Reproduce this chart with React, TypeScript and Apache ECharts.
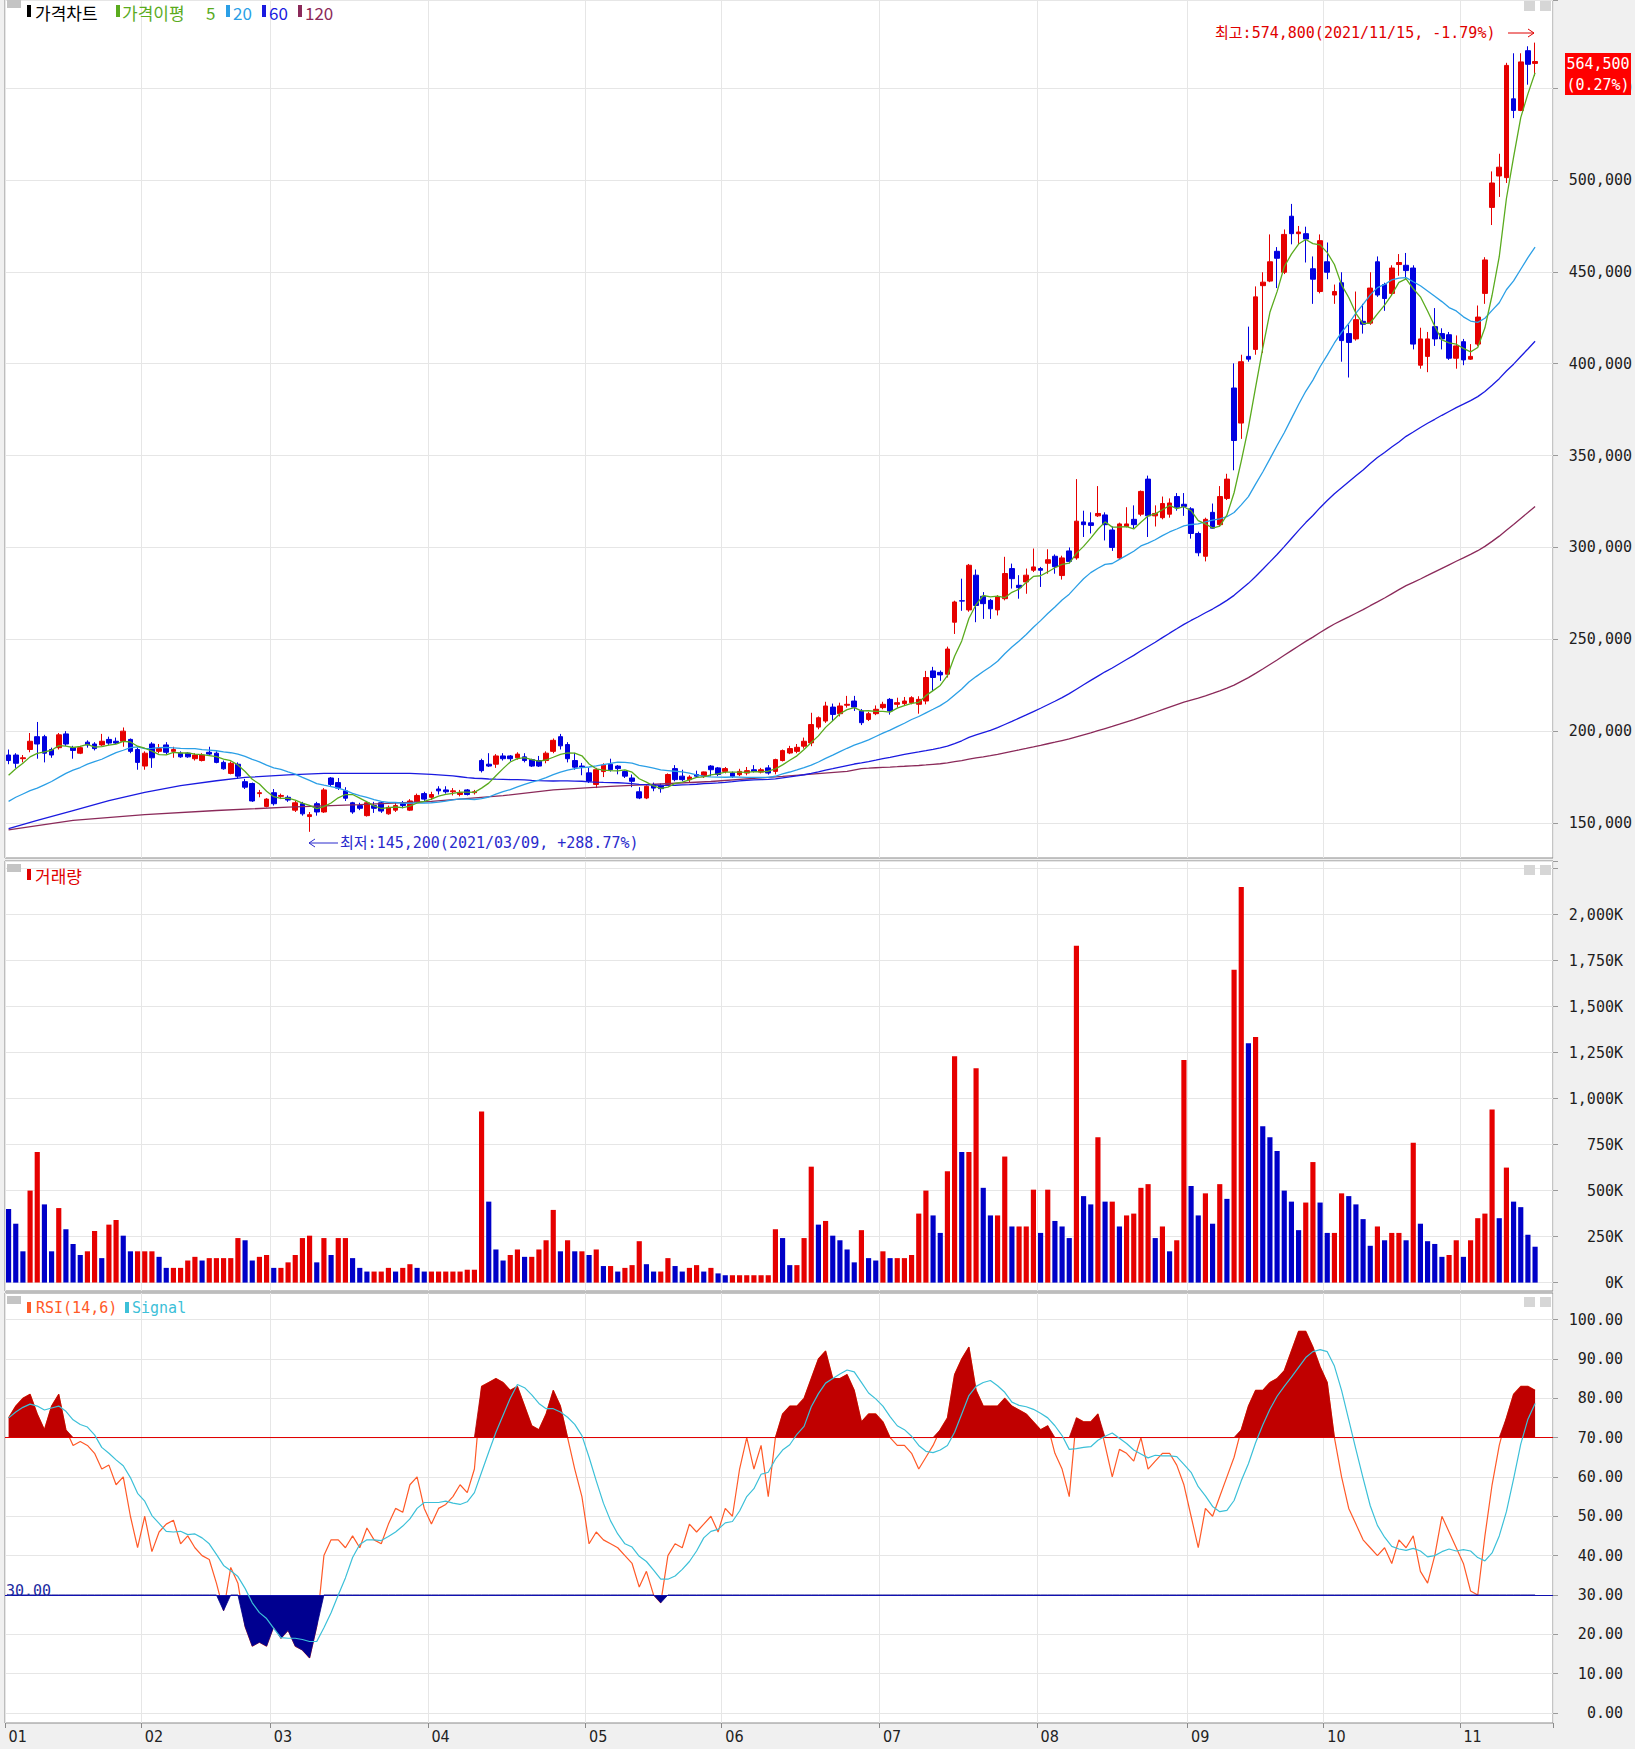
import React, { useEffect, useRef } from "react";
import * as echarts from "echarts";

// ---- price data (thousand won), one entry per trading day, 2021-01-05 .. 2021-11-15 ----
const opens = [
  187,187,185,190,197,197,190,191,198.5,191,188,194,193,192.5,195.5,194.5,194.5,195.5,190,
  181,193,189,192.5,189,188,188,185,184,188.5,188,183,177,182,172.5,171.5,166,159,
  166.5,164.5,164,157,160.5,153.5,160.5,156,174.5,172,167.5,161,159.5,154,159.5,161,155,157,160.5,157,161.5,166,
  164,168.5,168,167,165.5,168,166.5,184,182,182,186.5,186.5,185.5,186,184.5,184,184,189,197,192.7,184,181,
  177.3,171,178,182,181,178,174.5,167,163.6,171,170.5,171,179.6,175.5,173.6,176.4,175.5,181,180,
  178.1,177.2,176.3,177.2,179,177.7,180,178.1,184,188.1,189,191.8,193.6,202.2,205.5,213.1,209.5,214.1,216.4,211,206.4,209.5,
  212.8,217.3,214.6,215,215.5,214.6,216.4,232.8,232,231,259.3,271,266,284.9,273.4,271.2,266,272.1,288.5,279.4,281.2,287.6,
  288.5,291.4,295.2,284.7,298.1,294.3,313.9,313.4,317.2,317.7,309.5,294.3,311.4,315.3,318.1,337.2,317.2,316.2,318.1,327.7,323.5,
  321,307.6,295.2,319.1,312.4,326.7,386.8,367.7,404,407.8,442.5,445,461.2,449.8,480.3,470.8,470.8,451.7,439.3,
  455.5,437.4,444.1,416.4,413.5,423.1,422.1,455.5,443.1,438.3,454,453.6,452.1,399.2,404,420.2,416.4,415.8,403,
  412,402.5,410.7,438.3,485.1,502.2,501.3,544.2,537.9,570.4,563.5,
];
const closes = [
  184,182.5,185.5,194.5,193,188,187,198,193,189.5,191,192.5,190.5,194.5,193.5,193.5,200,189,183,
  188,185.5,190.5,188.5,190,186,186,187,187,187.5,183,179.5,182.5,175.5,169.5,162,166.5,163,
  160.5,165,162.5,161,155,154.5,156,168,171,169,163.5,156,158,161,158,156.5,158.5,159.5,159.5,162,165,163,
  165.5,167.5,167,167.5,166.5,165.5,167,178.5,181,186.5,185,185,187.5,184,181,181,188,195,192,185,180.4,180.5,
  172.7,179,181.5,179,179.6,175.5,172.7,163.6,170,169,168.7,176.4,173.6,173.6,175,175.5,177.8,179,176.4,
  179.6,175.4,178.1,178.5,178.1,179,177.2,184.5,189.4,190.5,191.2,194.5,203.6,207.3,213.7,209.1,213.7,214.6,213.1,204.6,209.5,211.9,
  214.6,211,215.5,216.4,218.2,217.3,229.2,229.2,230.6,244.7,270.3,270.8,290.3,268.4,269.4,266.6,273,285.8,283,278.1,284.9,289.4,
  287.6,293.3,289.5,294.3,292.4,314.3,312.4,312,318.5,312.4,300,312.8,312.8,312.4,330.5,317.2,318.5,323.9,324.2,321.9,322.3,
  307.6,297.1,315.3,310.5,327.7,337.2,358.2,401.1,402.5,436.4,444.4,455.5,457.4,470.4,470.8,471.7,467.9,446,467,
  449.8,439.3,412.6,411.6,424,421.5,441.2,437.4,435.5,452.1,455.1,450.7,410.7,413.5,413.5,413.5,413.5,403,409.7,
  402.1,404,425.4,456.5,498.4,507,562.4,537.9,564.3,563,564.5,
];
const highs = [
  190,188,187,199,205,198,191,199,200,192,192,195,194,198.5,197,196.5,202,196,191,
  189,194,193,194,191.5,189,188.5,188,188,191.5,189,184,183.5,183,174,172,168,163.5,
  168.5,166,165,162,161.5,156,161.5,169,175,174.5,169.5,161.5,161,162,161.5,162,159.5,161,162,163,166,167,
  167,170,170,169,168,168.5,168,185,188,187.5,188,187,188.5,188,185,186.5,189,196,198.5,194,188.2,182.7,
  180,180,182.5,185,181.5,178.5,176.4,169.5,170.5,172,171.5,177,181.5,179,176,178.5,178,181.5,180.5,
  180.5,178,179.5,180.5,181.5,180,181.5,185,190,192,193,196.5,210,208,216,215,215.5,219.2,219.2,212,210.5,214,
  216,218,218.2,218.6,219,219,232.8,235,233,246,271,283,291,288,275.7,272,274,294.9,291.2,284.9,288.5,299.4,
  289.4,299,296.2,295.5,300,337.2,320,319.1,333.4,319.1,311.4,313.5,321.9,322.9,331,339.1,322.9,327.7,326.7,329.6,329.6,
  321.9,308.6,316.2,323.9,333.4,340.1,400.2,404.9,420.2,442.1,449.8,470.4,463.5,473.1,487,475,474.6,458.4,470.4,
  466,443.1,449.8,421.2,439.3,432.6,449.8,458.4,444.1,453.6,459.7,460.3,453.6,419.6,417.3,430.3,419.3,417.3,415.4,
  413.5,410.7,431.7,458,504.7,514.3,563.8,569,569,572.8,574.8,
];
const lows = [
  182,180,183,188.5,185,183,185.5,190,192,185,187.5,191,189.5,192,192.5,193,191.5,188,179,
  179,180,188,187.5,185.5,185.5,185.5,184,183.5,187,182.5,179,176.5,174,168.5,161.5,164,158.5,
  159.5,163,161.5,156,154,145.2,154,155.5,170,168,162,155,157,153.5,155.5,155.5,154.5,156,158,156.5,160.5,162,
  162.5,165.5,166,165,164.5,165,165.5,177.5,180.5,180,184,183.5,184.5,183,180.5,180.5,182.5,188,190,183,179,176,
  171.8,169,175,178,176.5,174.5,169.5,163,163,167.3,166.5,170.5,172.7,172.7,172,174.5,174.5,175.5,175.5,
  177,174.5,175.5,176,177.5,177,176.3,176.5,183.5,187.5,188,190.5,191.8,201,204.5,205.5,208,212.8,211,203.3,205.5,208.7,
  211.9,209,212.8,213.7,214.6,209.5,214.6,221.9,227.4,229.2,252.9,265.5,265,259.3,261.1,261.1,263,271.2,277.6,272.1,274.8,286.6,
  278.5,285.7,285.7,282.5,291.4,293.3,305.7,307.6,316.6,303.8,298.1,293.5,310.9,310.5,317,305.7,311.4,315.3,316.2,320,317.2,
  304.8,295.2,292.4,310.1,311.4,325.8,342,359.1,401.1,404.9,405.9,444.4,441.2,448.8,465,465,455.1,432.6,438.3,
  446,432.6,401.1,392.5,412.6,416.4,421.2,436.4,428.8,437.4,447.9,446,407.8,397.3,395.4,409.7,407.8,402.1,397.3,
  399.2,402.1,409.7,432.6,475.5,490.8,498.4,533.7,537.5,551.9,556.6,
];
// volume, thousand shares
const volumes = [
  400,320,170,500,710,425,170,405,290,210,150,170,280,133,315,340,255,170,170,
  170,170,140,80,80,80,120,140,120,133,133,133,133,242,230,120,140,150,
  80,80,110,150,242,255,110,242,150,242,242,133,80,60,60,60,80,60,80,100,80,60,
  60,60,60,60,60,70,70,930,440,180,120,150,180,140,140,180,230,395,170,230,170,170,
  150,180,90,90,60,80,95,225,100,60,60,133,90,60,80,95,60,80,50,
  40,40,40,40,40,40,40,290,242,95,95,242,630,315,335,255,230,180,110,285,133,120,
  170,133,133,133,150,375,500,365,270,605,1230,710,710,1165,515,365,365,685,305,305,305,505,
  270,505,335,305,242,1830,470,425,790,440,440,305,365,375,515,535,242,305,170,230,1210,
  525,365,485,320,535,455,1700,2150,1300,1335,850,790,715,500,440,285,435,655,435,
  270,270,485,470,425,345,200,305,230,270,270,230,760,320,225,210,140,150,230,
  140,230,350,375,940,350,625,440,410,260,195,
];
// RSI(14)
const rsi = [
  75,78,80,81,76,72,78,81,72,68,69,68,66,62,63,58,60,50,42,
  50,41,46,48,49,43,45,42,40,39,33,26,37,33,22,17,18,17,
  22,19,21,17,16,14,22,40,44,44,42,45,42,47,44,43,48,52,51,58,60,52,
  48,52,53,55,58,56,62,83,84,85,84,82,83,78,73,72,76,82,78,70,62,55,
  43,46,44,43,42,40,38,32,36,30,28,40,43,42,48,46,48,50,46,
  52,50,62,70,62,68,55,70,76,78,78,80,85,90,92,85,85,86,82,74,76,76,
  74,70,68,68,66,62,65,68,72,75,86,90,93,82,78,78,78,80,78,77,76,74,
  72,73,66,62,55,75,74,74,76,68,60,67,66,64,70,62,64,66,66,63,58,
  50,42,52,50,55,60,65,72,78,82,82,84,85,87,92,97,97,93,88,
  84,70,60,52,48,44,42,40,42,38,44,42,45,36,33,40,50,46,42,
  38,31,30,45,58,68,75,81,83,83,82,
];
const ma5Early = [176, 179.5, 182.5, 186];
const ma20Early = [161.8,164,165.8,167.6,169,170.8,172.6,174.8,177,178.8,180.2,182,183.4,184.7,186.5,188.3,189.6,191,191.4];
const ma60EarlyIdx = [0,4,9,14,19,24,29,33,39,44,50,56];
const ma60EarlyVal = [146.9,151.4,156.8,162.2,166.7,170.3,173,174.8,176.2,177,177,177];
const ma120EarlyIdx = [0,9,19,29,39,49,59,69,76,84,98,108,117];
const ma120EarlyVal = [146.2,151.4,154.6,156.8,158.6,160,161.8,164.9,168,169.9,172.6,175.4,178.1];

const monthStarts = [0,19,37,59,81,100,122,144,165,184,203];
const monthLabels = ["01","02","03","04","05","06","07","08","09","10","11"];

const RED = "#e60000";
const BLUE = "#0000e0";
const MONO = "'DejaVu Sans Mono', 'Noto Sans CJK KR', monospace";
const KR = "'Noto Sans CJK KR', sans-serif";

function avg(arr: number[], from: number, to: number) {
  let s = 0;
  for (let k = from; k <= to; k++) s += arr[k];
  return s / (to - from + 1);
}

function buildOption(): any {
  const N = closes.length;
  const cats = Array.from({ length: N + 2 }, (_, i) => String(i));
  const isMonth = (i: number) => monthStarts.indexOf(i) >= 0;

  const ma5 = closes.map((_, i) => (i >= 4 ? +avg(closes, i - 4, i).toFixed(2) : ma5Early[i]));
  const ma20 = closes.map((_, i) => (i >= 19 ? +avg(closes, i - 19, i).toFixed(2) : ma20Early[i]));
  const ma60 = closes.map((_, i) => {
    if (i >= 59) return +avg(closes, i - 59, i).toFixed(2);
    const k = ma60EarlyIdx.indexOf(i);
    return k >= 0 ? ma60EarlyVal[k] : null;
  });
  const ma120 = closes.map((_, i) => {
    if (i >= 119) return +avg(closes, i - 119, i).toFixed(2);
    const k = ma120EarlyIdx.indexOf(i);
    return k >= 0 ? ma120EarlyVal[k] : null;
  });
  const signal = rsi.map((_, i) => +avg(rsi, Math.max(0, i - 5), i).toFixed(2));

  const L = 5, W = 1548;
  const panels = [
    { top: 0, h: 858 },
    { top: 861, h: 430 },
    { top: 1293, h: 430 },
  ];
  const grid: any[] = panels.map((p) => ({
    left: L, top: p.top, width: W, height: p.h, show: true,
    backgroundColor: "#ffffff", borderColor: "#8a8a8a", borderWidth: 1,
  }));
  grid.push({ left: L, top: 0, width: W, height: 823 });
  grid.push({ left: L, top: 861, width: W, height: 421.6 });
  grid.push({ left: L, top: 1319.5, width: W, height: 393.5 });

  const bgX = (gi: number, labels: boolean) => ({
    type: "category", gridIndex: gi, data: cats, boundaryGap: true,
    axisLine: { show: false },
    axisTick: { show: labels, interval: (i: number) => isMonth(i), length: 5, lineStyle: { color: "#8a8a8a" } },
    axisLabel: {
      show: labels, interval: (i: number) => isMonth(i),
      formatter: (v: string) => monthLabels[monthStarts.indexOf(Number(v))] || "",
      align: "left", margin: 5, fontFamily: "'Liberation Sans Narrow', 'DejaVu Sans Condensed', sans-serif",
      fontSize: 16, color: "#222",
    },
    splitLine: { show: true, interval: (i: number) => isMonth(i), lineStyle: { color: "#e6e6e6", width: 1 } },
  });
  const dataX = (gi: number) => ({ type: "category", gridIndex: gi, data: cats, boundaryGap: true, show: false });
  const xAxis = [bgX(0, false), bgX(1, false), bgX(2, true), dataX(3), dataX(4), dataX(5)];

  const bgY = (gi: number) => ({ type: "value", gridIndex: gi, show: false, min: 0, max: 1 });
  const valY = (gi: number, min: number, max: number, interval: number, margin: number, fmt: (v: number) => string) => ({
    type: "value", gridIndex: gi, position: "right", min, max, interval,
    axisLine: { show: false },
    axisTick: { show: true, length: 5, lineStyle: { color: "#9a9a9a" } },
    splitLine: { show: true, lineStyle: { color: "#e6e6e6", width: 1 } },
    axisLabel: {
      formatter: fmt, align: "right", margin, fontFamily: MONO, fontSize: 15, color: "#1e1e1e",
      showMaxLabel: true, showMinLabel: true,
    },
  });
  const yAxis = [
    bgY(0), bgY(1), bgY(2),
    valY(3, 150, 598, 50, 79, (v) => (v % 50 === 0 && v <= 550 ? (v * 1000).toLocaleString("en-US") : "")),
    valY(4, 0, 2291, 250, 70, (v) => (v % 250 === 0 && v <= 2000 ? v.toLocaleString("en-US") + "K" : "")),
    valY(5, 0, 100, 10, 70, (v) => (v % 10 === 0 ? v.toFixed(2) : "")),
  ];

  const maLine = (data: any[], color: string, z: number) => ({
    type: "line", xAxisIndex: 3, yAxisIndex: 3, data, showSymbol: false, symbol: "none",
    connectNulls: true, clip: false, silent: true, z,
    lineStyle: { color, width: 1.3 },
  });

  const series: any[] = [
    {
      type: "bar", xAxisIndex: 4, yAxisIndex: 4, barWidth: "72%", silent: true,
      data: volumes.map((v, i) => ({
        value: v,
        itemStyle: { color: i > 0 && v >= volumes[i - 1] ? RED : "#0000c8" },
      })),
    },
    {
      type: "candlestick", xAxisIndex: 3, yAxisIndex: 3, barWidth: "70%", clip: false, silent: true, z: 3,
      data: opens.map((o, i) => [o, closes[i], lows[i], highs[i]]),
      itemStyle: {
        color: RED, color0: BLUE, borderColor: RED, borderColor0: BLUE,
        borderColorDoji: RED, borderWidth: 1,
      },
    },
    maLine(ma120, "#8b2a5a", 4),
    maLine(ma60, "#1a1ae0", 4),
    maLine(ma20, "#2b9fe6", 5),
    maLine(ma5, "#5aab1e", 6),
    // RSI line
    {
      type: "line", xAxisIndex: 5, yAxisIndex: 5, data: rsi, showSymbol: false, symbol: "none", silent: true, z: 2,
      lineStyle: { color: "#ff5a28", width: 1.2 },
    },
    // red area above 70
    {
      type: "line", xAxisIndex: 5, yAxisIndex: 5, stack: "hi", data: rsi.map(() => 70),
      showSymbol: false, symbol: "none", silent: true, z: 3, lineStyle: { width: 0, opacity: 0 },
    },
    {
      type: "line", xAxisIndex: 5, yAxisIndex: 5, stack: "hi", data: rsi.map((v) => Math.max(v - 70, 0)),
      showSymbol: false, symbol: "none", silent: true, z: 3, lineStyle: { width: 0.8, color: "#b40000" },
      areaStyle: { color: "#c00000", opacity: 1 },
    },
    // blue area below 30
    {
      type: "line", xAxisIndex: 5, yAxisIndex: 5, stack: "lo", data: rsi.map((v) => Math.min(v, 30)),
      showSymbol: false, symbol: "none", silent: true, z: 3, lineStyle: { width: 0.8, color: "#00008c" },
    },
    {
      type: "line", xAxisIndex: 5, yAxisIndex: 5, stack: "lo", data: rsi.map((v) => 30 - Math.min(v, 30)),
      showSymbol: false, symbol: "none", silent: true, z: 3, lineStyle: { width: 0, opacity: 0 },
      areaStyle: { color: "#000090", opacity: 1 },
    },
    // signal
    {
      type: "line", xAxisIndex: 5, yAxisIndex: 5, data: signal, showSymbol: false, symbol: "none", silent: true, z: 5,
      lineStyle: { color: "#3cc0d8", width: 1.2 },
      markLine: {
        silent: true, symbol: ["none", "none"], label: { show: false },
        data: [
          { yAxis: 70, lineStyle: { color: "#e00000", width: 1, type: "solid" } },
          { yAxis: 30, lineStyle: { color: "#1010b0", width: 1, type: "solid" } },
        ],
      },
    },
  ];

  const box = (x: number, y: number, w: number, h: number, fill: string) => ({
    type: "rect", shape: { x, y, width: w, height: h }, style: { fill }, z: 100, silent: true,
  });
  const txt = (x: number, y: number, text: string, fill: string, font: string, align = "left") => ({
    type: "text", x, y, z: 100, silent: true,
    style: { text, fill, font, textAlign: align, align, textVerticalAlign: "middle", verticalAlign: "middle" },
  });
  const seg = (x1: number, y1: number, x2: number, y2: number, stroke: string) => ({
    type: "line", shape: { x1, y1, x2, y2 }, style: { stroke, lineWidth: 1 }, z: 100, silent: true,
  });
  const poly = (pts: number[][], stroke: string) => ({
    type: "polyline", shape: { points: pts }, style: { stroke, lineWidth: 1, fill: "none" }, z: 100, silent: true,
  });

  const KR17 = `17px ${KR}`;
  const M15 = `15px ${MONO}`;
  const graphic: any[] = [
    box(7, 0, 14, 8, "#c4c4c4"), box(7, 864, 14, 8, "#c4c4c4"), box(7, 1296, 14, 8, "#c4c4c4"),
    box(1524, 1, 11, 10, "#d6d6d6"), box(1540, 1, 11, 10, "#d6d6d6"),
    box(1524, 865, 11, 10, "#d6d6d6"), box(1540, 865, 11, 10, "#d6d6d6"),
    box(1524, 1297, 11, 10, "#d6d6d6"), box(1540, 1297, 11, 10, "#d6d6d6"),
    box(27, 5, 4, 12, "#000000"), txt(35, 12, "가격차트", "#000000", KR17),
    box(116, 5, 4, 12, "#5aab1e"), txt(122, 12, "가격이평", "#5aab1e", KR17),
    txt(206, 12, "5", "#5aab1e", KR17),
    box(226, 5, 4, 12, "#2b9fe6"), txt(233, 12, "20", "#2b9fe6", KR17),
    box(262, 5, 4, 12, "#1a1ae0"), txt(269, 12, "60", "#1a1ae0", KR17),
    box(298, 5, 4, 12, "#8b2a5a"), txt(305, 12, "120", "#8b2a5a", KR17),
    box(27, 869, 4, 11, "#e00000"), txt(35, 875, "거래량", "#e00000", KR17),
    box(27, 1302, 4, 11, "#ff5a28"), txt(36, 1308, "RSI(14,6)", "#ff5a28", M15),
    box(125, 1302, 4, 11, "#3cc0d8"), txt(132, 1308, "Signal", "#3cc0d8", M15),
    txt(1215, 33, "최고:574,800(2021/11/15, -1.79%)", "#e00000", M15),
    seg(1508, 33, 1534, 33, "#e00000"), poly([[1528, 29], [1534, 33], [1528, 37]], "#e00000"),
    seg(309, 843, 338, 843, "#2a2acc"), poly([[315, 839], [309, 843], [315, 847]], "#2a2acc"),
    txt(340, 843, "최저:145,200(2021/03/09, +288.77%)", "#2a2acc", M15),
    box(1565, 53, 66, 42, "#ff0000"),
    txt(1598, 64, "564,500", "#ffffff", M15, "center"),
    txt(1598, 85, "(0.27%)", "#ffffff", M15, "center"),
    txt(6, 1591, "30.00", "#1a2aa0", M15),
  ];

  return {
    animation: false,
    backgroundColor: "#f0f0f0",
    grid, xAxis, yAxis, series, graphic,
  };
}

export default function App() {
  const ref = useRef<HTMLDivElement>(null);
  useEffect(() => {
    document.body.style.margin = "0";
    const chart = echarts.init(ref.current as HTMLDivElement, null, { renderer: "svg" });
    chart.setOption(buildOption());
    return () => chart.dispose();
  }, []);
  return <div ref={ref} style={{ width: 1635, height: 1749 }} />;
}
